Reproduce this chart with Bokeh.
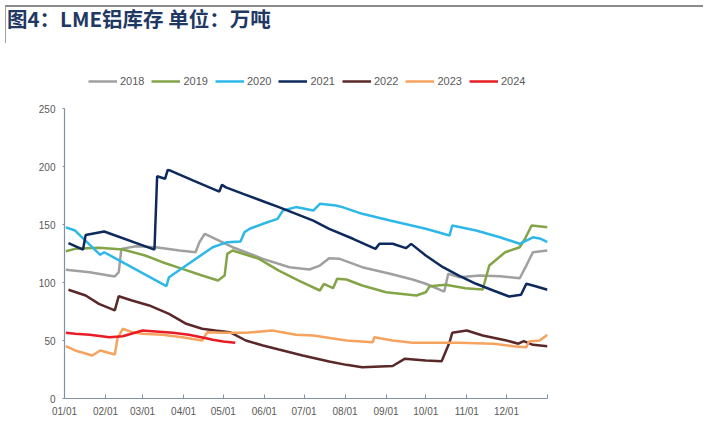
from bokeh.plotting import figure
from bokeh.models import Range1d, FixedTicker, Legend, LegendItem, Div
from bokeh.layouts import column
from bokeh.embed import file_html
from bokeh.resources import INLINE

# ---- data (day of year, inventory in 10k tonnes) ----
d2018 = [1, 19, 38, 41, 43, 54, 69, 87, 99, 102, 106, 114, 127, 150, 170, 185, 193, 200, 208, 225, 246, 263, 273, 287, 290, 298, 314, 329, 344, 349, 354, 365]
v2018 = [110.9, 108.9, 105.2, 108.9, 129.0, 131.3, 130.4, 127.6, 126.1, 134.8, 142.0, 137.7, 130.4, 120.4, 113.2, 111.2, 114.6, 120.9, 120.4, 113.2, 107.5, 102.6, 98.9, 92.2, 107.5, 104.6, 106.0, 105.4, 103.7, 114.6, 126.1, 127.6]

d2019 = [1, 8, 26, 44, 61, 74, 89, 104, 116, 121, 123, 127, 147, 162, 177, 193, 196, 203, 206, 213, 225, 243, 266, 273, 276, 288, 303, 316, 321, 333, 344, 348, 353, 365]
v2019 = [127.0, 129.0, 129.9, 128.4, 123.3, 117.5, 111.8, 106.0, 101.7, 106.0, 124.7, 127.6, 120.4, 110.3, 101.7, 93.1, 98.9, 95.1, 103.2, 102.6, 97.4, 91.6, 88.8, 91.6, 96.8, 98.0, 95.1, 94.0, 114.6, 126.1, 130.4, 137.7, 149.1, 147.7]

d2020 = [1, 8, 27, 30, 77, 79, 112, 123, 133, 136, 140, 150, 161, 165, 175, 188, 193, 205, 210, 225, 246, 273, 291, 293, 311, 329, 344, 354, 360, 365]
v2020 = [147.5, 144.8, 123.9, 126.1, 96.8, 104.6, 130.4, 134.8, 135.3, 143.4, 146.3, 150.6, 154.9, 162.0, 165.0, 162.0, 167.8, 166.4, 165.0, 159.2, 153.4, 146.3, 140.5, 149.1, 144.8, 139.0, 133.4, 139.0, 137.7, 134.8]

d2021 = [3, 14, 16, 30, 68, 70, 76, 78, 80, 97, 117, 119, 122, 135, 152, 162, 175, 188, 200, 218, 235, 238, 248, 258, 262, 273, 286, 298, 311, 324, 336, 345, 349, 356, 365]
v2021 = [133.9, 128.4, 141.0, 144.0, 128.4, 191.6, 189.4, 197.0, 196.5, 188.0, 178.4, 184.2, 182.0, 176.4, 169.2, 165.0, 159.2, 153.4, 146.3, 137.7, 129.0, 133.4, 133.4, 129.6, 133.3, 123.3, 113.2, 106.0, 98.9, 93.1, 87.9, 89.4, 98.9, 96.8, 93.7]

d2022 = [3, 16, 26, 38, 41, 51, 64, 79, 92, 104, 114, 125, 137, 150, 162, 180, 200, 213, 225, 248, 257, 273, 285, 291, 293, 304, 316, 334, 343, 347, 354, 365]
v2022 = [93.7, 88.8, 81.6, 75.9, 88.2, 84.5, 80.2, 73.0, 64.4, 60.1, 58.6, 57.2, 50.0, 45.7, 42.2, 37.1, 31.9, 29.0, 27.0, 28.0, 34.2, 32.8, 32.2, 48.5, 56.6, 58.6, 54.3, 50.0, 47.2, 49.4, 46.3, 45.1]

d2023 = [1, 8, 21, 27, 38, 40, 44, 51, 59, 74, 89, 104, 108, 120, 137, 157, 175, 188, 213, 233, 234, 248, 263, 273, 298, 324, 339, 349, 351, 359, 365]
v2023 = [45.1, 41.4, 37.1, 41.4, 37.9, 51.5, 60.1, 57.2, 55.8, 54.9, 52.8, 50.0, 57.2, 56.6, 56.6, 58.6, 54.9, 54.3, 50.0, 48.5, 52.8, 50.0, 48.0, 48.0, 48.0, 47.2, 45.1, 44.2, 49.1, 50.0, 54.9]

d2024 = [1, 8, 19, 34, 44, 59, 69, 82, 94, 107, 112, 120, 129]
v2024 = [56.6, 55.8, 54.9, 52.8, 53.7, 58.6, 57.8, 56.6, 54.9, 52.0, 50.6, 49.1, 48.0]

years = ["2018", "2019", "2020", "2021", "2022", "2023", "2024"]
colors = ["#A0A0A0", "#84A448", "#2DB8E8", "#0E2A5C", "#5A2828", "#F5A35E", "#E81C24"]
series_days = [d2018, d2019, d2020, d2021, d2022, d2023, d2024]
series_vals = [v2018, v2019, v2020, v2021, v2022, v2023, v2024]

month_ticks = [0, 31, 59, 90, 120, 151, 181, 212, 243, 273, 304, 334, 365]
month_labels = ["01/01", "02/01", "03/01", "04/01", "05/01", "06/01", "07/01",
                "08/01", "09/01", "10/01", "11/01", "12/01", ""]
y_ticks = [0, 50, 100, 150, 200, 250]
title_text = "图4：LME铝库存 单位：万吨"

# frame spans page y 48..398; value 250 sits 60 px below the frame top
y_top = 250 + 60 * 250 / 290

title_div = Div(
    text=('<div style="font-family:\'Noto Sans CJK SC\';font-weight:bold;font-size:20.5px;'
          'line-height:20px;color:#1F3864;padding:1px 0 0 0;white-space:nowrap;">'
          + title_text + '</div>'),
    width=698, height=38,
    styles={"border-top": "2px solid #8C8C8C", "border-left": "1px solid #A0A0A0",
            "box-sizing": "border-box", "padding-left": "1px"})

p = figure(width=698, height=381, output_backend="svg", toolbar_location=None,
           x_range=Range1d(0, 365), y_range=Range1d(0, y_top),
           min_border_left=64, min_border_right=151, min_border_top=0, min_border_bottom=31)
p.title_location = None
p.outline_line_color = None
p.grid.grid_line_color = None
p.background_fill_color = "white"
p.border_fill_color = "white"

items = []
for yr, c, dd, vv in zip(years, colors, series_days, series_vals):
    r = p.line(dd, vv, line_color=c, line_width=2.5)
    items.append(LegendItem(label=yr, renderers=[r]))

axis_col = "#8090A8"
lab_col = "#595959"
p.xaxis.ticker = FixedTicker(ticks=month_ticks)
p.xaxis.major_label_overrides = {t: l for t, l in zip(month_ticks, month_labels)}
p.yaxis.ticker = FixedTicker(ticks=y_ticks)
p.yaxis.bounds = (0, 250)
for ax in (p.xaxis, p.yaxis):
    ax.axis_line_color = axis_col
    ax.axis_line_width = 1.2
    ax.major_tick_line_color = axis_col
    ax.minor_tick_line_color = None
    ax.major_label_text_color = lab_col
    ax.major_label_text_font = "Liberation Sans"
    ax.major_label_text_font_size = "10px"
p.xaxis.major_tick_in = 4
p.xaxis.major_tick_out = 0
p.xaxis.major_label_standoff = 7
p.yaxis.major_tick_in = 0
p.yaxis.major_tick_out = 2
p.yaxis.major_label_standoff = 7

lg = Legend(items=items, orientation="horizontal", location=(24, 311),
            padding=0, margin=0, spacing=7, glyph_width=29, glyph_height=12,
            label_height=12, label_standoff=3, label_text_font="Liberation Sans",
            label_text_font_size="11px", label_text_color=lab_col,
            border_line_color=None, background_fill_alpha=0)
p.add_layout(lg, "center")

layout = column(title_div, p, spacing=0)

open("out.html", "w").write(file_html(layout, INLINE))
